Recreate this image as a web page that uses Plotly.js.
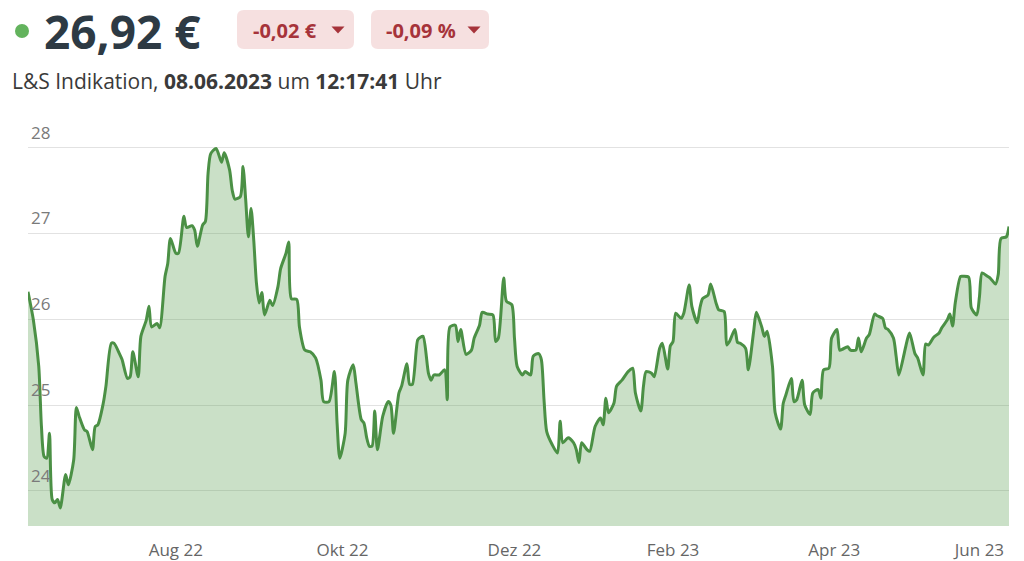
<!DOCTYPE html>
<html>
<head>
<meta charset="utf-8">
<script src="https://cdn.plot.ly/plotly-3.0.1.min.js"></script>
<style>
html,body{margin:0;padding:0;background:#fff;}
#chart{width:1024px;height:561px;}
</style>
</head>
<body>
<div id="chart"></div>
<script>
const dates = [
"2022-06-08","2022-06-10","2022-06-12","2022-06-13","2022-06-14","2022-06-15","2022-06-16","2022-06-17","2022-06-18","2022-06-19",
"2022-06-20","2022-06-22","2022-06-23","2022-06-25","2022-06-26","2022-06-27","2022-06-29","2022-06-30","2022-07-02","2022-07-03",
"2022-07-04","2022-07-06","2022-07-07","2022-07-09","2022-07-10","2022-07-12","2022-07-13","2022-07-15","2022-07-16","2022-07-17",
"2022-07-19","2022-07-20","2022-07-22","2022-07-23","2022-07-24","2022-07-26","2022-07-27","2022-07-29","2022-07-30","2022-07-31",
"2022-08-02","2022-08-03","2022-08-05","2022-08-06","2022-08-08","2022-08-09","2022-08-10","2022-08-12","2022-08-13","2022-08-14",
"2022-08-15","2022-08-17","2022-08-19","2022-08-20","2022-08-22","2022-08-23","2022-08-24","2022-08-26","2022-08-27","2022-08-28",
"2022-08-29","2022-08-30","2022-08-31","2022-09-01","2022-09-02","2022-09-03","2022-09-04","2022-09-06","2022-09-07","2022-09-09",
"2022-09-10","2022-09-12","2022-09-13","2022-09-14","2022-09-16","2022-09-17","2022-09-19","2022-09-21","2022-09-23","2022-09-25",
"2022-09-26","2022-09-28","2022-09-30","2022-10-01","2022-10-02","2022-10-04","2022-10-05","2022-10-07","2022-10-08","2022-10-10",
"2022-10-11","2022-10-12","2022-10-13","2022-10-14","2022-10-15","2022-10-16","2022-10-18","2022-10-20","2022-10-21","2022-10-22",
"2022-10-24","2022-10-25","2022-10-27","2022-10-28","2022-10-29","2022-10-31","2022-11-01","2022-11-02","2022-11-04","2022-11-05",
"2022-11-06","2022-11-08","2022-11-10","2022-11-11","2022-11-12","2022-11-14","2022-11-15","2022-11-16","2022-11-18","2022-11-20",
"2022-11-21","2022-11-23","2022-11-24","2022-11-26","2022-11-28","2022-11-29","2022-11-30","2022-12-02","2022-12-03","2022-12-05",
"2022-12-06","2022-12-07","2022-12-09","2022-12-10","2022-12-12","2022-12-13","2022-12-15","2022-12-16","2022-12-17","2022-12-18",
"2022-12-20","2022-12-22","2022-12-23","2022-12-24","2022-12-26","2022-12-28","2022-12-29","2022-12-30","2022-12-31","2023-01-02",
"2023-01-03","2023-01-05","2023-01-07","2023-01-08","2023-01-09","2023-01-10","2023-01-12","2023-01-13","2023-01-15","2023-01-17",
"2023-01-18","2023-01-19","2023-01-20","2023-01-22","2023-01-23","2023-01-24","2023-01-26","2023-01-27","2023-01-29","2023-01-30",
"2023-02-01","2023-02-02","2023-02-03","2023-02-04","2023-02-06","2023-02-07","2023-02-09","2023-02-10","2023-02-12","2023-02-13",
"2023-02-14","2023-02-16","2023-02-17","2023-02-19","2023-02-20","2023-02-22","2023-02-23","2023-02-24","2023-02-26","2023-02-27",
"2023-02-28","2023-03-02","2023-03-03","2023-03-05","2023-03-06","2023-03-08","2023-03-09","2023-03-10","2023-03-12","2023-03-13",
"2023-03-15","2023-03-16","2023-03-17","2023-03-19","2023-03-20","2023-03-21","2023-03-23","2023-03-24","2023-03-26","2023-03-27",
"2023-03-29","2023-03-30","2023-03-31","2023-04-02","2023-04-03","2023-04-05","2023-04-06","2023-04-07","2023-04-09","2023-04-10",
"2023-04-12","2023-04-13","2023-04-14","2023-04-16","2023-04-17","2023-04-19","2023-04-20","2023-04-22","2023-04-23","2023-04-24",
"2023-04-26","2023-04-27","2023-04-28","2023-04-30","2023-05-01","2023-05-02","2023-05-04","2023-05-05","2023-05-07","2023-05-08",
"2023-05-09","2023-05-11","2023-05-13","2023-05-14","2023-05-16","2023-05-17","2023-05-18","2023-05-19","2023-05-21","2023-05-22",
"2023-05-24","2023-05-25","2023-05-27","2023-05-28","2023-05-29","2023-05-31","2023-06-01","2023-06-03","2023-06-04","2023-06-05",
"2023-06-07","2023-06-08"
];
const prices = [
26.32,25.99,25.45,24.75,24.40,24.38,24.67,23.90,23.86,23.90,
23.80,24.19,24.07,24.36,24.97,24.87,24.71,24.69,24.48,24.75,
24.77,25.02,25.22,25.72,25.72,25.60,25.53,25.31,25.33,25.62,
25.33,25.80,25.99,26.15,25.91,25.95,25.90,26.50,26.65,26.94,
26.77,26.77,27.20,27.07,27.09,27.04,26.85,27.10,27.14,27.70,
27.93,27.99,27.83,27.94,27.74,27.50,27.40,27.43,27.78,27.39,
26.96,27.29,26.92,26.42,26.19,26.31,26.05,26.22,26.16,26.38,
26.59,26.77,26.90,26.24,26.23,25.91,25.64,25.62,25.55,25.29,
25.04,25.04,25.39,24.79,24.38,24.67,25.29,25.47,25.26,24.83,
24.79,24.62,24.52,24.52,24.93,24.48,24.87,25.04,25.00,24.67,
25.14,25.22,25.48,25.24,25.24,25.76,25.79,25.80,25.37,25.29,
25.35,25.35,25.41,25.06,25.91,25.93,25.74,25.88,25.59,25.64,
25.78,25.93,26.08,26.06,26.05,25.74,25.78,26.48,26.21,26.17,
25.78,25.45,25.35,25.39,25.35,25.57,25.60,25.53,25.06,24.69,
24.54,24.44,24.81,24.56,24.62,24.56,24.48,24.33,24.56,24.48,
24.46,24.75,24.85,24.77,25.08,24.91,25.02,25.22,25.29,25.38,
25.41,25.43,25.14,24.93,25.22,25.39,25.37,25.33,25.66,25.72,
25.42,25.69,25.74,26.07,26.01,26.07,26.40,26.15,25.96,26.13,
26.24,26.28,26.41,26.19,26.11,26.09,25.70,25.74,25.88,25.73,
25.72,25.66,25.41,25.86,26.08,25.91,25.80,25.86,25.45,24.91,
24.72,25.02,25.12,25.31,25.04,25.06,25.29,25.00,24.89,25.14,
25.18,25.08,25.41,25.43,25.78,25.88,25.64,25.65,25.68,25.64,
25.64,25.78,25.62,25.78,25.82,26.06,26.04,26.01,25.90,25.88,
25.78,25.57,25.35,25.60,25.74,25.84,25.60,25.55,25.35,25.71,
25.70,25.79,25.84,25.90,25.99,26.06,25.92,26.19,26.50,26.50,
26.49,26.13,26.05,26.26,26.54,26.50,26.48,26.41,26.52,26.94,
26.96,27.08
];
const xTickVals = ["2022-08-02","2022-10-03","2022-12-06","2023-02-03","2023-04-04","2023-05-28"];
const xTickText = ["Aug 22","Okt 22","Dez 22","Feb 23","Apr 23","Jun 23"];
const yTickVals = [24,25,26,27,28];
const yTickText = ["24","25","26","27","28"];
const lastPrice = "26,92 €";
const changeAbs = "-0,02 €";
const changePct = "-0,09 %";
const subtitle = "L&S Indikation, <b>08.06.2023</b> um <b>12:17:41</b> Uhr";

// plot-area geometry in pixels (for placing header items in paper coords)
const L = 28, R = 1009, T = 116, B = 526;
const W = R - L, H = B - T;
const px = x => (x - L) / W;
const py = y => (B - y) / H;
const FONT = "Open Sans, Lato, sans-serif";
const yTop = 23.59 + H / 85.8;

function roundRect(x0, y0, x1, y1, r) {
  const X0 = px(x0), X1 = px(x1), Y0 = py(y0), Y1 = py(y1);
  const rx = r / W, ry = r / H;
  return `M${X0+rx},${Y0} L${X1-rx},${Y0} Q${X1},${Y0} ${X1},${Y0-ry} L${X1},${Y1+ry} Q${X1},${Y1} ${X1-rx},${Y1} L${X0+rx},${Y1} Q${X0},${Y1} ${X0},${Y1+ry} L${X0},${Y0-ry} Q${X0},${Y0} ${X0+rx},${Y0} Z`;
}
function tri(cx, cy, w, h) {
  return `M${px(cx - w/2)},${py(cy - h/2)} L${px(cx + w/2)},${py(cy - h/2)} L${px(cx)},${py(cy + h/2)} Z`;
}

const trace = {
  x: dates, y: prices, type: "scatter", mode: "lines",
  line: {color: "#4b9045", width: 3, shape: "spline", smoothing: 0.7},
  fill: "tozeroy", fillcolor: "rgba(90,160,80,0.32)",
  hoverinfo: "skip"
};

const layout = {
  width: 1024, height: 561,
  margin: {l: L, r: 1024 - R, t: T, b: 561 - B, pad: 0},
  paper_bgcolor: "#ffffff", plot_bgcolor: "#ffffff",
  showlegend: false,
  font: {family: FONT, color: "#333"},
  xaxis: {
    type: "date", range: ["2022-06-08", "2023-06-08"],
    tickvals: xTickVals, ticktext: xTickText,
    showgrid: false, zeroline: false, showline: false, ticks: "",
    tickfont: {family: FONT, size: 17, color: "#666"}, ticklabelstandoff: 12
  },
  yaxis: {
    range: [23.59, yTop], tickvals: yTickVals, ticktext: yTickText,
    showgrid: true, gridcolor: "#e2e2e2", gridwidth: 1,
    zeroline: false, showline: false, ticks: "",
    ticklabelposition: "inside top", ticklabelshift: -3,
    tickfont: {family: FONT, size: 17, color: "#7a7a7a"}
  },
  shapes: [
    {type: "circle", xref: "paper", yref: "paper", x0: px(15), x1: px(29), y0: py(38), y1: py(24), fillcolor: "#63b35d", line: {width: 0}},
    {type: "path", xref: "paper", yref: "paper", path: roundRect(237, 10, 354, 49, 7), fillcolor: "#f6e0e0", line: {width: 0}},
    {type: "path", xref: "paper", yref: "paper", path: roundRect(371, 10, 489, 49, 7), fillcolor: "#f6e0e0", line: {width: 0}},
    {type: "path", xref: "paper", yref: "paper", path: tri(338, 30, 13, 7), fillcolor: "#a6333a", line: {width: 0}},
    {type: "path", xref: "paper", yref: "paper", path: tri(474, 30, 13, 7), fillcolor: "#a6333a", line: {width: 0}}
  ],
  annotations: [
    {xref: "paper", yref: "paper", x: px(42), y: py(31), xanchor: "left", yanchor: "middle", showarrow: false,
     text: "<b>" + lastPrice + "</b>", font: {family: FONT, size: 46, color: "#2d3a44"}},
    {xref: "paper", yref: "paper", x: px(285), y: py(30), xanchor: "center", yanchor: "middle", showarrow: false,
     text: "<b>" + changeAbs + "</b>", font: {family: FONT, size: 20, color: "#a6333a"}},
    {xref: "paper", yref: "paper", x: px(421), y: py(30), xanchor: "center", yanchor: "middle", showarrow: false,
     text: "<b>" + changePct + "</b>", font: {family: FONT, size: 20, color: "#a6333a"}},
    {xref: "paper", yref: "paper", x: px(10), y: py(81), xanchor: "left", yanchor: "middle", showarrow: false,
     text: subtitle, font: {family: FONT, size: 21, color: "#3a3a3a"}}
  ]
};

Plotly.newPlot("chart", [trace], layout, {displayModeBar: false, staticPlot: true});
</script>
</body>
</html>
